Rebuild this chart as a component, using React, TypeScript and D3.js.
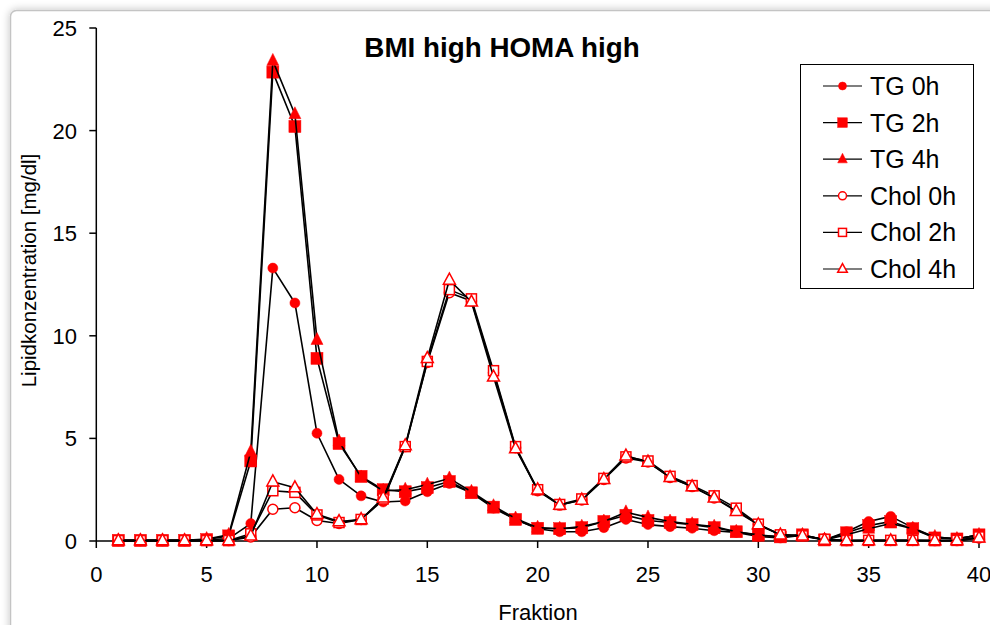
import React from "react";
import * as d3 from "d3";

const fractions = d3.range(1, 41);

const tg0h = [0.02, 0.02, 0.02, 0.02, 0.05, 0.12, 0.85, 13.3, 11.6, 5.25, 3.0, 2.2, 1.9, 1.95, 2.4, 2.8, 2.35, 1.6, 1.05, 0.6, 0.45, 0.45, 0.65, 1.05, 0.8, 0.7, 0.62, 0.5, 0.42, 0.22, 0.15, 0.28, 0.05, 0.45, 0.95, 1.2, 0.65, 0.18, 0.12, 0.28];
const tg2h = [0.03, 0.03, 0.03, 0.03, 0.07, 0.25, 3.9, 22.85, 20.2, 8.9, 4.75, 3.15, 2.5, 2.4, 2.6, 2.9, 2.35, 1.65, 1.05, 0.62, 0.6, 0.65, 0.95, 1.25, 1.0, 0.9, 0.8, 0.65, 0.45, 0.28, 0.2, 0.3, 0.05, 0.4, 0.75, 0.95, 0.6, 0.15, 0.1, 0.3];
const tg4h = [0.03, 0.03, 0.03, 0.03, 0.1, 0.3, 4.35, 23.4, 20.8, 9.8, 4.85, 3.1, 2.45, 2.5, 2.75, 3.05, 2.4, 1.7, 1.1, 0.65, 0.6, 0.7, 0.95, 1.4, 1.15, 0.95, 0.82, 0.7, 0.45, 0.3, 0.2, 0.3, 0.05, 0.3, 0.6, 0.85, 0.6, 0.2, 0.1, 0.3];
const chol0h = [0.02, 0.02, 0.02, 0.02, 0.02, 0.02, 0.2, 1.55, 1.62, 1.0, 0.85, 1.05, 2.0, 4.6, 8.7, 12.1, 11.7, 8.2, 4.55, 2.45, 1.75, 2.0, 3.0, 4.05, 3.85, 3.1, 2.65, 2.1, 1.5, 0.8, 0.3, 0.25, 0.1, 0.02, 0.03, 0.03, 0.03, 0.02, 0.02, 0.15];
const chol2h = [0.02, 0.02, 0.02, 0.02, 0.02, 0.02, 0.35, 2.45, 2.37, 1.27, 0.9, 1.05, 2.05, 4.6, 8.75, 12.25, 11.8, 8.3, 4.6, 2.5, 1.78, 2.05, 3.05, 4.1, 3.9, 3.15, 2.7, 2.2, 1.6, 0.82, 0.3, 0.25, 0.08, 0.02, 0.03, 0.03, 0.03, 0.02, 0.03, 0.2];
const chol4h = [0.02, 0.02, 0.02, 0.02, 0.02, 0.02, 0.25, 2.89, 2.6, 1.3, 0.95, 1.05, 2.1, 4.65, 8.9, 12.72, 11.65, 8.0, 4.5, 2.5, 1.75, 2.0, 3.0, 4.15, 3.85, 3.1, 2.65, 2.1, 1.45, 0.8, 0.3, 0.25, 0.05, 0.02, 0.02, 0.02, 0.02, 0.02, 0.02, 0.15];

const seriesNames = ["TG 0h", "TG 2h", "TG 4h", "Chol 0h", "Chol 2h", "Chol 4h"];
const seriesValues = [tg0h, tg2h, tg4h, chol0h, chol2h, chol4h];
const seriesShapes = ["circle", "square", "triangle", "circle", "square", "triangle"];
const seriesFilled = [true, true, true, false, false, false];

const xTicks = [0, 5, 10, 15, 20, 25, 30, 35, 40];
const yTicks = [0, 5, 10, 15, 20, 25];

const FONT = "'Liberation Sans', Arial, sans-serif";
const RED = "#ff0000";

function Marker({ shape, filled, x, y, scale = 1 }: { shape: string; filled: boolean; x: number; y: number; scale?: number }) {
  const fill = filled ? RED : "#ffffff";
  const stroke = RED;
  const sw = filled ? 0.5 : 1.5;
  if (shape === "circle") {
    const r = 5 * scale;
    return <circle cx={x} cy={y} r={r} fill={fill} stroke={stroke} strokeWidth={sw} />;
  }
  if (shape === "square") {
    const s = (filled ? 12 : 10) * scale;
    return <rect x={x - s / 2} y={y - s / 2} width={s} height={s} fill={fill} stroke={stroke} strokeWidth={sw} />;
  }
  const h = (filled ? 12 : 11) * scale;
  const w = 12 * scale;
  const pts = [
    [x, y - h * 0.62],
    [x + w / 2, y + h * 0.38],
    [x - w / 2, y + h * 0.38],
  ];
  return <polygon points={pts.map((p) => p.join(",")).join(" ")} fill={fill} stroke={stroke} strokeWidth={sw} />;
}

export default function App() {
  const W = 990;
  const H = 625;
  const x = d3.scaleLinear().domain([0, 40]).range([96.3, 979]);
  const y = d3.scaleLinear().domain([0, 25]).range([541, 28]);
  const line = d3
    .line<number>()
    .x((_, i) => x(fractions[i]))
    .y((d) => y(d));

  return (
    <svg
      width={W}
      height={H}
      style={{ position: "fixed", left: 0, top: 0, background: "#ffffff" }}
      fontFamily={FONT}
    >
      <defs>
        <filter id="shadow" x="-5%" y="-5%" width="110%" height="110%">
          <feGaussianBlur in="SourceAlpha" stdDeviation="4" />
          <feOffset dx="0" dy="0" result="b" />
          <feComponentTransfer>
            <feFuncA type="linear" slope="0.25" />
          </feComponentTransfer>
          <feMerge>
            <feMergeNode />
            <feMergeNode in="SourceGraphic" />
          </feMerge>
        </filter>
      </defs>
      <rect x={0} y={0} width={W} height={H} fill="#ffffff" />
      <rect x={10.5} y={10.5} width={1000} height={640} rx={6} fill="#ffffff" stroke="#c4c4c4" strokeWidth={1.5} filter="url(#shadow)" />

      {/* title */}
      <text x={502} y={57} textAnchor="middle" fontSize={27.8} fontWeight="bold" fill="#000">
        BMI high HOMA high
      </text>

      {/* axes */}
      <line x1={x(0)} x2={x(0)} y1={y(25)} y2={y(0)} stroke="#000" strokeWidth={1.5} />
      <line x1={x(0)} x2={x(40)} y1={y(0)} y2={y(0)} stroke="#000" strokeWidth={1.5} />
      {yTicks.map((t) => (
        <g key={"y" + t}>
          <line x1={x(0) - 7} x2={x(0)} y1={y(t)} y2={y(t)} stroke="#000" strokeWidth={1.5} />
          <text x={77} y={y(t) + 8} textAnchor="end" fontSize={22} fill="#000">
            {t}
          </text>
        </g>
      ))}
      {xTicks.map((t) => (
        <g key={"x" + t}>
          <line x1={x(t)} x2={x(t)} y1={y(0)} y2={y(0) + 7} stroke="#000" strokeWidth={1.5} />
          <text x={x(t)} y={582} textAnchor="middle" fontSize={22} fill="#000">
            {t}
          </text>
        </g>
      ))}

      <text x={538} y={620} textAnchor="middle" fontSize={22} fill="#000">
        Fraktion
      </text>
      <text
        transform={`translate(36, 270.5) rotate(-90)`}
        textAnchor="middle"
        fontSize={20.5}
        fill="#000"
      >
        Lipidkonzentration [mg/dl]
      </text>

      {/* series */}
      {seriesValues.map((vals, si) => (
        <g key={"s" + si}>
          <path d={line(vals) || ""} fill="none" stroke="#000" strokeWidth={1.6} strokeLinejoin="round" />
          {vals.map((v, i) => (
            <Marker key={i} shape={seriesShapes[si]} filled={seriesFilled[si]} x={x(fractions[i])} y={y(v)} />
          ))}
        </g>
      ))}

      {/* legend */}
      <rect x={800.5} y={64.5} width={173} height={224} fill="#ffffff" stroke="#000" strokeWidth={1} />
      {seriesNames.map((name, i) => {
        const ly = 86 + i * 36.6;
        return (
          <g key={"l" + i}>
            <line x1={823} x2={862} y1={ly} y2={ly} stroke="#000" strokeWidth={1.2} />
            <Marker shape={seriesShapes[i]} filled={seriesFilled[i]} x={842.5} y={ly} scale={0.8} />
            <text x={870} y={ly + 9} fontSize={25} fill="#000">
              {name}
            </text>
          </g>
        );
      })}
    </svg>
  );
}
